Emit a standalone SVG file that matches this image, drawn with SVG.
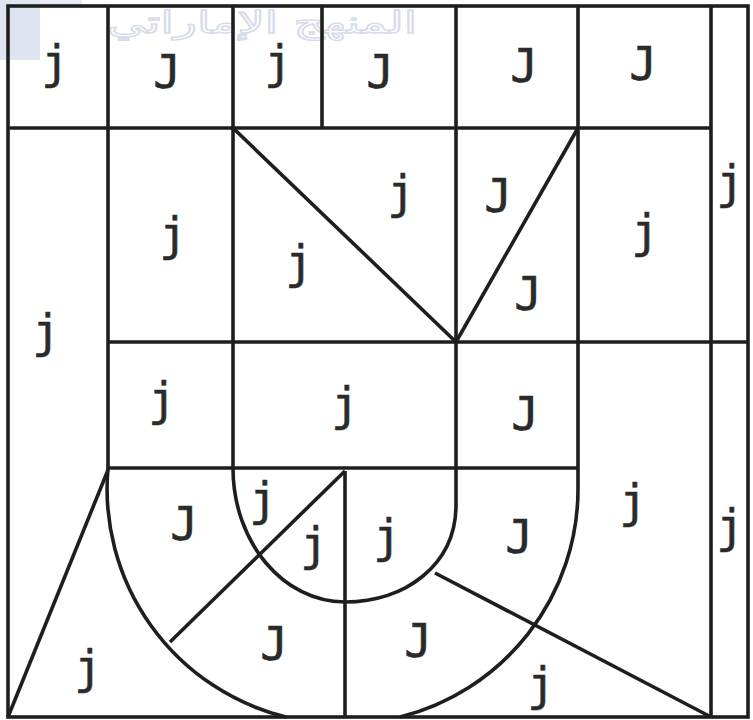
<svg xmlns="http://www.w3.org/2000/svg" width="753" height="720" viewBox="0 0 753 720">
  <style>
    .ln { fill: none; stroke: #1e1e1e; stroke-width: 3.6; stroke-linecap: butt; stroke-linejoin: miter; }
    .lb { font-family: "DejaVu Sans Mono", "Liberation Mono", monospace; font-size: 46px; fill: #2a2a2a; stroke: #2a2a2a; stroke-width: 0.6; text-anchor: middle; }
    .wm { font-family: "DejaVu Sans", "Noto Sans", sans-serif; font-size: 30px; fill: none; stroke: #d6dcea; stroke-width: 1.4; }
  </style>
  <rect width="753" height="720" fill="#ffffff"/>
  <g id="watermark">
    <rect x="0" y="0" width="40" height="60" fill="#dfe5f0"/>
    <rect x="40" y="0" width="42" height="6" fill="#e8ecf4"/>
    <text class="wm" x="262" y="33" text-anchor="middle" direction="rtl" textLength="310" lengthAdjust="spacingAndGlyphs">المنهج الإماراتي</text>
  </g>
  <g id="lines">
    <g class="ln">
      <!-- outer frame -->
      <rect x="8" y="6" width="740" height="711"/>
      <!-- top row -->
      <line x1="8" y1="128" x2="711" y2="128"/>
      <line x1="108" y1="6" x2="108" y2="468"/>
      <line x1="233" y1="6" x2="233" y2="468"/>
      <line x1="322" y1="6" x2="322" y2="128"/>
      <line x1="456" y1="6" x2="456" y2="342"/>
      <line x1="578" y1="6" x2="578" y2="342"/>
      <line x1="711" y1="6" x2="711" y2="717"/>
      <!-- middle horizontals -->
      <line x1="108" y1="342" x2="748" y2="342"/>
      <line x1="108" y1="468" x2="578" y2="468"/>
      <!-- V diagonals -->
      <line x1="233" y1="128" x2="456" y2="342"/>
      <line x1="578" y1="128" x2="456" y2="342"/>
      <!-- outer U -->
      <path d="M578 342 L578 489 A235 235 0 0 1 400 717"/>
      <path d="M286 717 A235 235 0 0 1 108 468"/>
      <!-- inner U -->
      <path d="M456 342 L456 505 C456 565 405 602 345 602 C283 602 233 542 233 468"/>
      <!-- other lines -->
      <line x1="108" y1="470" x2="8" y2="717"/>
      <line x1="345" y1="471" x2="345" y2="717"/>
      <line x1="345" y1="471" x2="170" y2="642"/>
      <line x1="435" y1="573" x2="711" y2="717"/>
    </g>
  </g>
  <g id="labels">
    <!-- top row -->
    <text class="lb" x="55" y="78">j</text>
    <text class="lb" x="167" y="88">J</text>
    <text class="lb" x="278" y="78">j</text>
    <text class="lb" x="380" y="88">J</text>
    <text class="lb" x="524" y="82">J</text>
    <text class="lb" x="643" y="80">J</text>
    <!-- second band -->
    <text class="lb" x="46" y="347">j</text>
    <text class="lb" x="173" y="250">j</text>
    <text class="lb" x="299" y="278">j</text>
    <text class="lb" x="401" y="208">j</text>
    <text class="lb" x="498" y="212">J</text>
    <text class="lb" x="528" y="310">J</text>
    <text class="lb" x="645" y="247">j</text>
    <text class="lb" x="730" y="198">j</text>
    <!-- third band -->
    <text class="lb" x="162" y="415">j</text>
    <text class="lb" x="345" y="420">j</text>
    <text class="lb" x="525" y="430">J</text>
    <!-- lower part -->
    <text class="lb" x="184" y="540">J</text>
    <text class="lb" x="263" y="515">j</text>
    <text class="lb" x="314" y="560">j</text>
    <text class="lb" x="387" y="552">j</text>
    <text class="lb" x="519" y="553">J</text>
    <text class="lb" x="633" y="517">j</text>
    <text class="lb" x="730" y="542">j</text>
    <text class="lb" x="88" y="683">j</text>
    <text class="lb" x="274" y="660">J</text>
    <text class="lb" x="418" y="657">J</text>
    <text class="lb" x="541" y="700">j</text>
  </g>
</svg>
